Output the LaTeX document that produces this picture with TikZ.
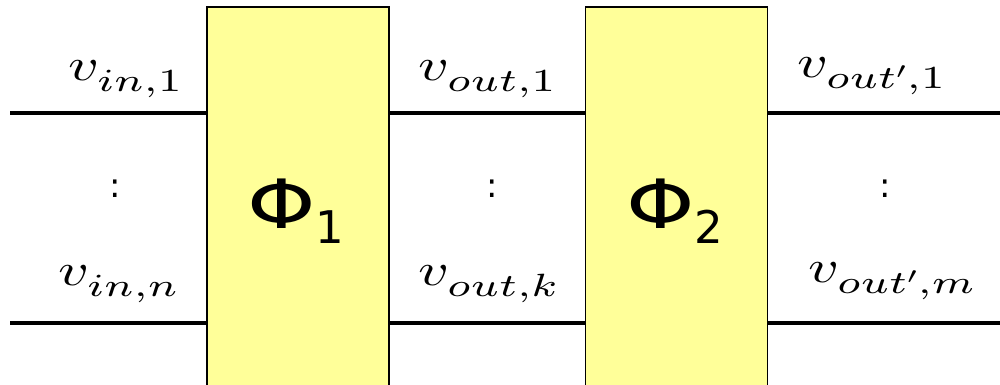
\documentclass[tikz,border=0pt]{standalone}
\usepackage{fontspec}
\DeclareFontShape{OML}{cmm}{m}{it}{<-40>cmmi7 <40->cmmi10}{\skewchar\font'177}
\DeclareFontShape{OMS}{cmsy}{m}{n}{<-40>cmsy7 <40->cmsy10}{\skewchar\font'60}
\DeclareFontShape{OT1}{cmr}{m}{n}{<-40>cmr7 <40->cmr10}{}
\DeclareSymbolFont{operators}{OT1}{cmr}{m}{n}
\newfontfamily\dejavu{DejaVu Sans}
\newcommand\lowersubs{\fontdimen16\textfont2=11pt\relax}
\definecolor{boxyellow}{RGB}{255,255,153}
\tikzset{
  block/.style={draw=black, line width=1.5pt, fill=boxyellow, minimum width=182pt, minimum height=390pt, inner sep=0pt},
  wire/.style={line width=4pt},
  lab/.style={inner sep=0pt, anchor=base west, font=\fontsize{46}{50}\selectfont},
  phi/.style={inner sep=0pt, anchor=base west, font=\dejavu\fontsize{68}{70}\selectfont},
  vdots/.style={inner sep=0pt, anchor=base, font=\dejavu\fontsize{34}{36}\selectfont}
}
\begin{document}
\begin{tikzpicture}[x=1pt,y=-1pt]
\useasboundingbox (0,0) rectangle (1000,384);
\clip (0,0) rectangle (1000,384);
\node[block] (box1) at (298,202) {};
\node[block] (box2) at (676.5,202) {};
\coordinate (top) at (10,113);
\coordinate (bot) at (10,323);
\coordinate (topend) at (1000,113);
\coordinate (botend) at (1000,323);
\draw[wire] (top) -- (top -| box1.west);
\draw[wire] (top -| box1.east) -- (top -| box2.west);
\draw[wire] (top -| box2.east) -- (topend);
\draw[wire] (bot) -- (bot -| box1.west);
\draw[wire] (bot -| box1.east) -- (bot -| box2.west);
\draw[wire] (bot -| box2.east) -- (botend);
\node[lab] (l1) at (68,80) {\scalebox{1.3}[1]{$\lowersubs v_{in,1}$}};
\node[lab] (l2) at (58,285) {\scalebox{1.3}[1]{$\lowersubs v_{in,n}$}};
\node[lab] (l3) at (418,80) {\scalebox{1.3}[1]{$\lowersubs v_{out,1}$}};
\node[lab] (l4) at (418,285) {\scalebox{1.3}[1]{$\lowersubs v_{out,k}$}};
\node[lab] (l5) at (797,77) {\scalebox{1.3}[1]{$\lowersubs v_{out',1}$}};
\node[lab] (l6) at (808,282) {\scalebox{1.3}[1]{$\lowersubs v_{out',m}$}};
\node[vdots] (d1) at (115,197) {:};
\node[vdots] (d2) at (492,197) {:};
\node[vdots] (d3) at (885,197) {:};
\node[phi] (p1) at (247,228) {\scalebox{1.28}[1]{Φ}\raisebox{-15pt}{\fontsize{45}{45}\selectfont 1}};
\node[phi] (p2) at (626,228) {\scalebox{1.28}[1]{Φ}\raisebox{-15pt}{\fontsize{45}{45}\selectfont 2}};
\end{tikzpicture}
\end{document}
